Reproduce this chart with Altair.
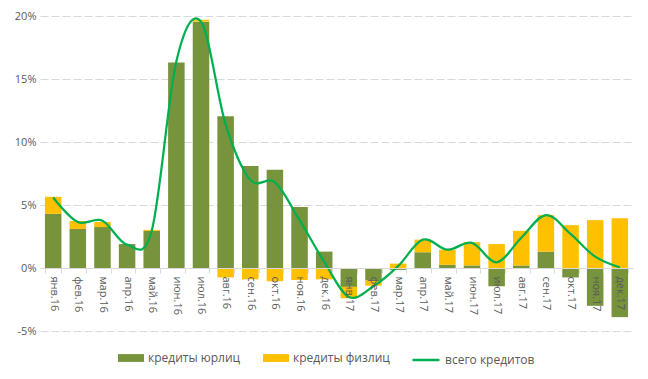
import altair as alt
import pandas as pd

months = ["янв.16","фев.16","мар.16","апр.16","май.16","июн.16","июл.16","авг.16","сен.16","окт.16","ноя.16","дек.16",
          "янв.17","фев.17","мар.17","апр.17","май.17","июн.17","июл.17","авг.17","сен.17","окт.17","ноя.17","дек.17"]
corp = [4.3, 3.1, 3.25, 1.9, 2.95, 16.3, 19.55, 12.05, 8.1, 7.8, 4.85, 1.3,
        -1.5, -1.0, -0.15, 1.25, 0.25, 0.2, -1.45, 0.2, 1.3, -0.75, -3.0, -3.9]
retail = [1.35, 0.63, 0.4, 0.0, 0.08, 0.0, 0.15, -0.75, -0.9, -1.05, -0.95, -0.9,
          -0.9, -0.4, 0.35, 1.0, 1.2, 1.85, 1.9, 2.75, 2.9, 3.4, 3.8, 3.95]
total = [5.6, 3.65, 3.75, 1.85, 2.95, 16.4, 19.55, 11.4, 7.0, 6.8, 3.8, 0.5,
         -2.3, -1.45, 0.15, 2.25, 1.45, 2.0, 0.45, 2.4, 4.2, 2.7, 0.9, 0.05]
series_names = ["кредиты юрлиц", "кредиты физлиц", "всего кредитов"]

rows = []
for m, c, r in zip(months, corp, retail):
    rows.append({"month": m, "series": series_names[0], "value": c, "ord": 0})
    rows.append({"month": m, "series": series_names[1], "value": r, "ord": 1})
bars_df = pd.DataFrame(rows)
line_df = pd.DataFrame({"month": months, "value": total, "series": series_names[2]})

W, H = 593, 315
font = "Open Sans"
grey = "#595959"

x = alt.X("month:N", sort=months, title=None,
          scale=alt.Scale(paddingInner=0.33, paddingOuter=0.2),
          axis=alt.Axis(labelAngle=90, offset=-H / 5, tickBand="extent", zindex=1,
                        domainColor="#D9D9D9", tickColor="#D9D9D9", tickSize=5,
                        labelPadding=3, labelColor=grey, labelFontSize=11,
                        labelFont=font, grid=False))
yscale = alt.Scale(domain=[-5, 20], nice=False)

bars = alt.Chart(bars_df).mark_bar().encode(
    x=x,
    y=alt.Y("value:Q", stack="zero", scale=yscale, title=None,
            axis=alt.Axis(values=[-5, 0, 5, 10, 15, 20], labelExpr="datum.value + '%'",
                          domain=False, ticks=False, gridDash=[8, 3], gridColor="#D9D9D9",
                          labelColor=grey, labelFontSize=11, labelFont=font, labelPadding=4)),
    color=alt.Color("series:N", sort=series_names[:2],
                    scale=alt.Scale(domain=series_names[:2], range=["#77933C", "#FFC000"]),
                    legend=alt.Legend(title=None, orient="none", direction="horizontal",
                                      legendX=78, legendY=329,
                                      symbolType="M-1,-0.3L1,-0.3L1,0.3L-1,0.3Z",
                                      symbolSize=676, symbolOpacity=1, symbolStrokeWidth=0,
                                      labelFontSize=12, labelFont=font, labelColor=grey,
                                      columnPadding=22, labelOffset=4)),
    order=alt.Order("ord:Q"),
)

line = alt.Chart(line_df).mark_line(interpolate="cardinal", strokeWidth=2.25).encode(
    x=x,
    y=alt.Y("value:Q", scale=yscale),
    stroke=alt.Stroke("series:N",
                      scale=alt.Scale(domain=[series_names[2]], range=["#00B050"]),
                      legend=alt.Legend(title=None, orient="none", legendX=371, legendY=329,
                                        symbolType="stroke", symbolSize=729, symbolStrokeWidth=2.5,
                                        labelFontSize=12, labelFont=font, labelColor=grey,
                                        labelOffset=4)),
)

chart = alt.layer(bars, line).properties(
    width=W, height=H,
    autosize=alt.AutoSizeParams(type="none"),
    padding={"left": 32, "top": 8, "right": 7, "bottom": 40},
).configure_view(stroke=None)

chart.save("out.html", embed_options={"renderer": "svg", "actions": False})
